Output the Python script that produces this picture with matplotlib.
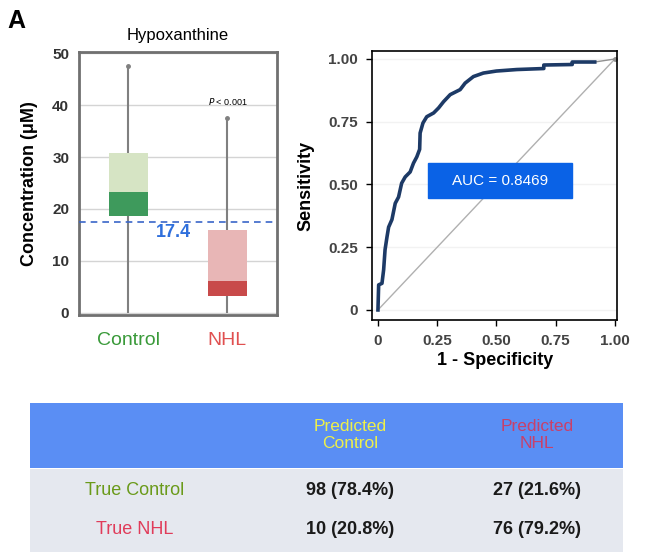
import numpy as np
import matplotlib
matplotlib.use("Agg")
import matplotlib.pyplot as plt
from matplotlib.patches import Rectangle

plt.rcParams['font.family'] = ['Liberation Sans', 'DejaVu Sans']

# box plot data (uM)
groups = ["Control", "NHL"]
whisker_low = [0.0, 0.0]
q1 = [18.6, 3.2]
median = [23.3, 6.1]
q3 = [30.8, 16.0]
whisker_high = [47.5, 37.5]
cutoff = 17.4

# ROC curve (1 - specificity, sensitivity)
fpr = [0.0, 0.003, 0.017, 0.024, 0.03, 0.038, 0.045, 0.059, 0.073, 0.087, 0.10,
       0.115, 0.136, 0.15, 0.164, 0.176, 0.178, 0.19, 0.206, 0.235, 0.256, 0.277,
       0.305, 0.347, 0.368, 0.403, 0.445, 0.50, 0.586, 0.70, 0.70, 0.82, 0.82, 0.915]
tpr = [0.0, 0.10, 0.106, 0.16, 0.24, 0.29, 0.33, 0.36, 0.425, 0.45, 0.505,
       0.53, 0.55, 0.585, 0.61, 0.64, 0.705, 0.745, 0.77, 0.785, 0.805, 0.83,
       0.858, 0.878, 0.904, 0.93, 0.944, 0.952, 0.958, 0.962, 0.976, 0.978, 0.988, 0.988]
auc = 0.8469

# confusion table
col_labels = ["Predicted\nControl", "Predicted\nNHL"]
row_labels = ["True Control", "True NHL"]
cells = [["98 (78.4%)", "27 (21.6%)"],
         ["10 (20.8%)", "76 (79.2%)"]]

fig = plt.figure(figsize=(6.47, 5.57), dpi=100)

# ---- box plot
ax1 = fig.add_axes([0.122, 0.4345, 0.306, 0.472])
pos = [1, 3]
light = ["#d6e4c4", "#e8b6b6"]
dark = ["#3e9a5c", "#c84a4a"]
for i in range(2):
    ax1.vlines(pos[i], whisker_low[i], whisker_high[i], color="#808080", lw=1.5, zorder=2)
    ax1.plot(pos[i], whisker_high[i], "o", ms=2.5, color="#808080", zorder=2)
    ax1.bar(pos[i], median[i] - q1[i], bottom=q1[i], width=0.8, color=dark[i], zorder=3)
    ax1.bar(pos[i], q3[i] - median[i], bottom=median[i], width=0.8, color=light[i], zorder=3)
ax1.axhline(cutoff, color="#3a66c8", lw=1.2, ls=(0, (4, 3)), zorder=4)
ax1.text(1.9, 15.4, "17.4", color="#2f6fdc", fontsize=13, fontweight="bold",
         ha="center", va="center", zorder=5)
ax1.text(3, 40.6, r"$\it{P}$ < 0.001", fontsize=6.5, ha="center", va="center")
ax1.set_xlim(0, 4)
ax1.set_ylim(-0.4, 50.2)
ax1.set_yticks([0, 10, 20, 30, 40, 50])
ax1.grid(axis="y", color="#d4d4d4", lw=1)
ax1.set_axisbelow(True)
ax1.set_xticks(pos)
ax1.set_xticklabels(groups, fontsize=14)
for lab, c in zip(ax1.get_xticklabels(), ["#3a9a3a", "#e05050"]):
    lab.set_color(c)
ax1.tick_params(axis="x", length=0, pad=12)
ax1.tick_params(axis="y", length=0, pad=7, labelsize=11, labelcolor="#333333")
for lab in ax1.get_yticklabels():
    lab.set_fontweight("bold")
for sp in ax1.spines.values():
    sp.set_color("#707070")
    sp.set_linewidth(2)
ax1.set_ylabel("Concentration (μM)", fontsize=13, fontweight="bold", labelpad=10)
ax1.set_title("Hypoxanthine", fontsize=12, pad=9)

# ---- ROC
ax2 = fig.add_axes([0.575, 0.4255, 0.379, 0.483])
ax2.plot([0, 1], [0, 1], color="#b0b0b0", lw=1)
ax2.plot([fpr[-1], 1], [tpr[-1], 1], color="#909090", lw=1)
ax2.plot(fpr, tpr, color="#1d3a66", lw=2.6, solid_joinstyle="round")
ax2.plot(1, 1, "o", ms=2.5, color="#909090")
ax2.add_patch(Rectangle((0.21, 0.446), 0.61, 0.139, color="#0a62e6", zorder=5))
ax2.text(0.515, 0.515, "AUC = %.4f" % auc, color="white", fontsize=11,
         ha="center", va="center", zorder=6)
ax2.set_xlim(-0.025, 1.01)
ax2.set_ylim(-0.04, 1.032)
ticks = [0, 0.25, 0.5, 0.75, 1.0]
tick_labels = ["0", "0.25", "0.50", "0.75", "1.00"]
ax2.set_xticks(ticks)
ax2.set_xticklabels(tick_labels)
ax2.set_yticks(ticks)
ax2.set_yticklabels(tick_labels)
ax2.grid(axis="y", color="#f2f2f2", lw=1)
ax2.set_axisbelow(True)
ax2.tick_params(direction="out", length=4, width=1, labelsize=11, labelcolor="#444444", pad=6)
for lab in ax2.get_xticklabels() + ax2.get_yticklabels():
    lab.set_fontweight("bold")
for sp in ax2.spines.values():
    sp.set_color("black")
    sp.set_linewidth(1.2)
ax2.set_xlabel("1 - Specificity", fontsize=13, fontweight="bold", labelpad=3)
ax2.set_ylabel("Sensitivity", fontsize=13, fontweight="bold", labelpad=10)

fig.text(0.012, 0.962, "A", fontsize=18, fontweight="bold", va="center", ha="left")

# ---- table
ax3 = fig.add_axes([0.0464, 0.009, 0.9165, 0.2675])
ax3.set_xlim(0, 1)
ax3.set_ylim(0, 1)
ax3.axis("off")
split = 0.564
ax3.axhspan(split, 1, color="#5a8ef4", lw=0)
ax3.axhspan(0, split - 0.006, color="#e5e8ef", lw=0)
col_x = [0.54, 0.855]
row_y = [0.416, 0.148]
head_colors = ["#eef04a", "#c8406a"]
row_colors = ["#6a9a1a", "#e03c5a"]
for j, lab in enumerate(col_labels):
    ax3.text(col_x[j], 0.785, lab, color=head_colors[j], fontsize=12.5,
             ha="center", va="center", linespacing=1.15)
for i, lab in enumerate(row_labels):
    ax3.text(0.177, row_y[i], lab, color=row_colors[i], fontsize=13,
             ha="center", va="center")
    for j in range(2):
        ax3.text(col_x[j], row_y[i], cells[i][j], color="#1a1a1a", fontsize=13,
                 fontweight="bold", ha="center", va="center")

fig.savefig("out.png", dpi=100)
